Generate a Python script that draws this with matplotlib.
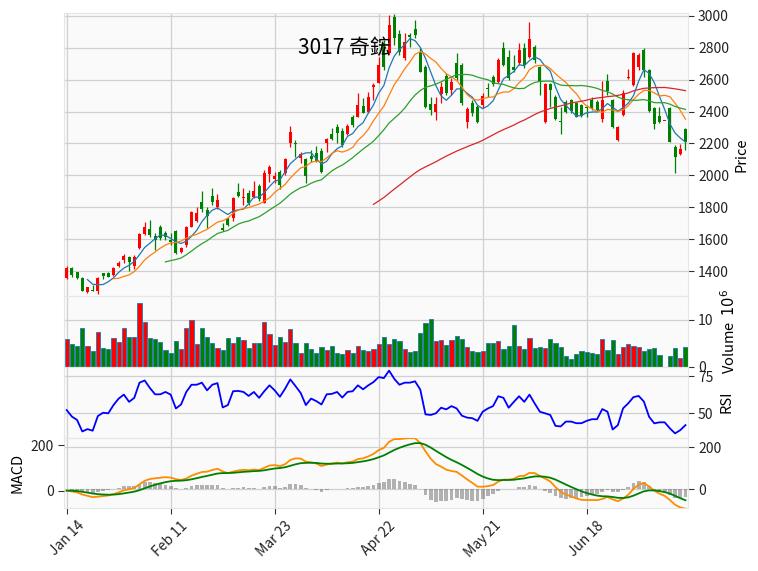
import numpy as np
import pandas as pd
import matplotlib
matplotlib.use('Agg')
import matplotlib.pyplot as plt

plt.rcParams['font.family'] = ['Noto Sans CJK TC', 'DejaVu Sans']

title = '3017 奇鋐'
tick_labels = ['Jan 14', 'Feb 11', 'Mar 23', 'Apr 22', 'May 21', 'Jun 18']
tick_step = 20

# daily candles (price), volume in 10^6
opens = [1360, 1419, 1394, 1360, 1272, 1285, 1277, 1389, 1389, 1375,
         1431, 1471, 1488, 1433, 1544, 1635, 1665, 1621, 1679, 1638,
         1596, 1652, 1523, 1565, 1679, 1717, 1836, 1784, 1871, 1801,
         1669, 1727, 1732, 1898, 1857, 1892, 1867, 1934, 1830, 2007,
         1978, 2023, 2013, 2201, 2203, 2111, 2105, 2124, 2142, 2153,
         2205, 2260, 2305, 2280, 2260, 2368, 2368, 2435, 2399, 2556,
         2581, 2831, 2765, 2990, 2886, 2733, 2879, 2917, 2775, 2681,
         2447, 2399, 2510, 2622, 2535, 2702, 2691, 2337, 2455, 2427,
         2441, 2549, 2618, 2587, 2800, 2743, 2681, 2702, 2800, 2743,
         2802, 2681, 2337, 2572, 2493, 2341, 2462, 2472, 2455, 2441,
         2430, 2472, 2462, 2352, 2593, 2472, 2222, 2378, 2608, 2566,
         2681, 2788, 2660, 2420, 2372, 2343, 2420, 2180, 2134, 2289]
highs = [1430, 1429, 1397, 1364, 1304, 1312, 1366, 1391, 1397, 1427,
         1463, 1510, 1494, 1500, 1638, 1707, 1719, 1642, 1690, 1652,
         1640, 1658, 1554, 1684, 1779, 1801, 1905, 1801, 1920, 1884,
         1700, 1740, 1865, 1951, 1920, 1909, 1967, 1946, 2034, 2065,
         2023, 2034, 2109, 2310, 2222, 2149, 2109, 2159, 2184, 2172,
         2234, 2297, 2320, 2297, 2322, 2378, 2514, 2483, 2524, 2581,
         2743, 2848, 3004, 3011, 2910, 2892, 2894, 2973, 2798, 2691,
         2493, 2489, 2587, 2641, 2610, 2768, 2704, 2430, 2472, 2441,
         2516, 2579, 2629, 2735, 2837, 2785, 2754, 2829, 2829, 2962,
         2816, 2684, 2580, 2578, 2503, 2430, 2472, 2477, 2462, 2445,
         2441, 2489, 2472, 2593, 2635, 2477, 2310, 2535, 2664, 2772,
         2766, 2797, 2664, 2427, 2430, 2343, 2427, 2190, 2197, 2295]
lows = [1352, 1362, 1350, 1277, 1266, 1275, 1256, 1352, 1362, 1371,
        1425, 1452, 1400, 1412, 1538, 1625, 1617, 1533, 1596, 1596,
        1565, 1508, 1513, 1554, 1675, 1710, 1773, 1673, 1815, 1792,
        1654, 1684, 1715, 1867, 1815, 1815, 1857, 1840, 1828, 1960,
        1951, 1915, 2003, 2180, 2117, 2076, 1951, 2084, 2084, 2015,
        2149, 2222, 2201, 2178, 2253, 2303, 2364, 2389, 2393, 2472,
        2577, 2660, 2760, 2817, 2754, 2723, 2806, 2858, 2648, 2422,
        2378, 2347, 2452, 2504, 2504, 2598, 2441, 2295, 2372, 2328,
        2422, 2491, 2560, 2579, 2685, 2598, 2648, 2691, 2673, 2735,
        2704, 2504, 2330, 2430, 2347, 2258, 2393, 2389, 2364, 2368,
        2364, 2410, 2399, 2337, 2504, 2295, 2215, 2372, 2602, 2560,
        2660, 2618, 2399, 2289, 2330, 2343, 2209, 2013, 2128, 2158]
closes = [1422, 1377, 1360, 1279, 1300, 1277, 1360, 1369, 1366, 1421,
          1450, 1494, 1456, 1488, 1632, 1675, 1627, 1596, 1606, 1617,
          1583, 1516, 1548, 1675, 1773, 1767, 1790, 1746, 1836, 1846,
          1658, 1690, 1857, 1871, 1867, 1826, 1903, 1851, 2017, 2055,
          1998, 1940, 2101, 2274, 2199, 2134, 1998, 2105, 2092, 2023,
          2226, 2230, 2264, 2191, 2311, 2316, 2441, 2393, 2489, 2566,
          2691, 2677, 2942, 2860, 2775, 2837, 2869, 2879, 2650, 2430,
          2410, 2447, 2552, 2514, 2587, 2608, 2452, 2414, 2389, 2337,
          2497, 2541, 2572, 2723, 2691, 2608, 2660, 2785, 2691, 2852,
          2720, 2587, 2572, 2535, 2353, 2333, 2399, 2405, 2368, 2372,
          2420, 2420, 2410, 2472, 2530, 2301, 2301, 2518, 2614, 2765,
          2754, 2660, 2405, 2320, 2337, 2343, 2211, 2117, 2164, 2211]
volume = [5.9, 4.9, 4.4, 8.3, 4.4, 3.4, 7.4, 4.0, 3.8, 6.1,
          5.3, 8.3, 6.4, 6.4, 13.6, 9.6, 6.1, 5.9, 5.3, 3.5,
          2.9, 5.5, 3.8, 8.3, 10.0, 4.9, 8.3, 6.4, 5.1, 4.0,
          3.6, 6.1, 5.1, 6.4, 5.7, 4.0, 5.1, 5.1, 9.6, 6.9,
          4.6, 6.4, 5.3, 8.1, 5.1, 2.9, 5.1, 3.8, 2.9, 4.2,
          3.6, 4.4, 2.9, 2.7, 3.6, 2.9, 4.4, 3.6, 3.4, 3.8,
          4.9, 6.4, 4.9, 5.9, 5.5, 3.8, 3.1, 3.4, 7.2, 9.4,
          10.2, 5.5, 5.7, 4.6, 5.7, 6.6, 5.9, 4.2, 3.4, 3.1,
          3.4, 5.1, 5.1, 5.5, 3.8, 4.4, 8.9, 4.4, 3.8, 6.1,
          4.0, 4.2, 4.0, 5.9, 5.1, 4.2, 2.3, 1.6, 2.7, 3.4,
          3.1, 2.9, 2.7, 5.9, 3.6, 5.7, 2.7, 4.2, 4.9, 4.4,
          4.2, 3.4, 3.8, 4.0, 2.5, 0.0, 2.3, 4.0, 1.9, 4.2]
rsi = [52.2, 47.8, 45.5, 37.7, 39.3, 38.2, 48.2, 50.4, 50.0, 55.6,
       60.0, 62.7, 57.8, 60.5, 70.8, 72.3, 67.2, 62.9, 62.9, 64.5,
       62.7, 53.3, 56.0, 64.5, 69.4, 69.4, 70.8, 65.6, 69.4, 70.5,
       54.0, 55.6, 65.0, 65.2, 64.5, 61.8, 64.5, 60.5, 65.0, 69.0,
       65.6, 61.2, 66.7, 73.0, 68.5, 63.8, 55.6, 60.0, 58.3, 56.0,
       62.9, 63.2, 64.5, 60.7, 64.5, 65.0, 69.0, 66.3, 69.0, 71.2,
       74.6, 73.9, 79.0, 73.4, 69.4, 70.8, 70.8, 71.7, 66.1, 49.3,
       48.9, 50.0, 53.8, 52.7, 54.9, 53.3, 48.4, 47.1, 46.7, 44.9,
       51.1, 53.3, 54.9, 61.6, 60.5, 53.8, 57.8, 61.6, 57.8, 62.7,
       56.7, 51.1, 50.0, 48.9, 41.5, 41.1, 44.4, 44.4, 43.3, 43.3,
       44.9, 46.0, 46.0, 52.9, 51.1, 39.0, 42.0, 53.4, 56.8, 61.0,
       61.8, 58.0, 47.7, 43.2, 43.9, 43.9, 39.8, 36.4, 38.6, 42.0]
mav_days = [5, 10, 20, 60]

n = len(closes)
x = np.arange(n)
o = np.array(opens, float)
h = np.array(highs, float)
l = np.array(lows, float)
c = np.array(closes, float)
up = c >= o
cols = np.where(up, '#ff0000', '#008000')

close_s = pd.Series(c)
ema12 = close_s.ewm(span=12, adjust=False).mean()
ema26 = close_s.ewm(span=26, adjust=False).mean()
macd = ema12 - ema26
signal = macd.ewm(span=9, adjust=False).mean()
hist = macd - signal

fig = plt.figure(figsize=(7.58, 5.71), dpi=100)
left, width = 0.0844, 0.8228
ax = fig.add_axes([left, 0.4816, width, 0.4956])
axv = fig.add_axes([left, 0.3577, width, 0.1239], sharex=ax)
axr = fig.add_axes([left, 0.2338, width, 0.1239], sharex=ax)
axm = fig.add_axes([left, 0.1099, width, 0.1239], sharex=ax)
axm2 = axm.twinx()

for a in (ax, axv, axr, axm):
    a.set_facecolor('#fafafa')
    a.grid(True, color='#d0d0d0', lw=0.9)
    a.set_axisbelow(True)
    a.yaxis.tick_right()
    a.yaxis.set_label_position('right')
    for s in a.spines.values():
        s.set_color('#e6e6e6')
    a.tick_params(axis='y', labelsize=10, length=4, color='#333333', labelcolor='#222222')
    a.tick_params(axis='x', length=0, labelbottom=False)
for s in axm2.spines.values():
    s.set_visible(False)

# candles
ax.vlines(x, l, h, colors=cols, lw=0.9)
body = np.maximum(np.abs(c - o), 4)
ax.bar(x, body, bottom=np.minimum(o, c), width=0.6, color=cols, lw=0)
mav_cols = ['#1f77b4', '#ff7f0e', '#2ca02c', '#d62728']
for d, mc in zip(mav_days, mav_cols):
    ax.plot(x, close_s.rolling(d).mean(), color=mc, lw=0.9)
ax.set_ylim(1245, 3017)
ax.set_yticks(range(1400, 3001, 200))
ax.set_ylabel('Price', fontsize=10.5)

axv.bar(x, volume, width=0.8, color=cols, edgecolor='#1f77b4', lw=0.6)
axv.set_ylim(0, 15.05)
axv.set_yticks([0, 10])
axv.set_ylabel('Volume  $10^{6}$', fontsize=10.5)

axr.plot(x, rsi, color='blue', lw=1.3)
axr.set_ylim(33.6, 81.6)
axr.set_yticks([50, 75])
axr.set_ylabel('RSI', fontsize=10.5)

axm.bar(x, hist, width=0.75, color='dimgray', alpha=0.5, lw=0)
axm.set_ylim(-90, 247)
axm.set_yticks([0, 200])
axm2.plot(x, macd, color='darkorange', lw=1.3)
axm2.plot(x, signal, color='green', lw=1.3)
axm2.set_ylim(-78, 235)
axm2.yaxis.tick_left()
axm2.yaxis.set_label_position('left')
axm2.set_yticks([0, 200])
axm2.tick_params(axis='y', labelsize=10, length=4, color='#333333', labelcolor='#222222')
axm2.set_ylabel('MACD', fontsize=10.5)

ticks = list(range(0, n, tick_step))[:len(tick_labels)]
axm.set_xticks(ticks)
axm.set_xticklabels(tick_labels)
axm.tick_params(axis='x', length=4, color='#333333', labelbottom=True, labelsize=10,
                labelcolor='#222222', labelrotation=45)
for t in axm.get_xticklabels():
    t.set_ha('center')
ax.set_xlim(-0.52, n - 0.58)

fig.text(0.4538, 0.916, title, ha='center', va='center', fontsize=15)

fig.savefig('out.png', dpi=100)
